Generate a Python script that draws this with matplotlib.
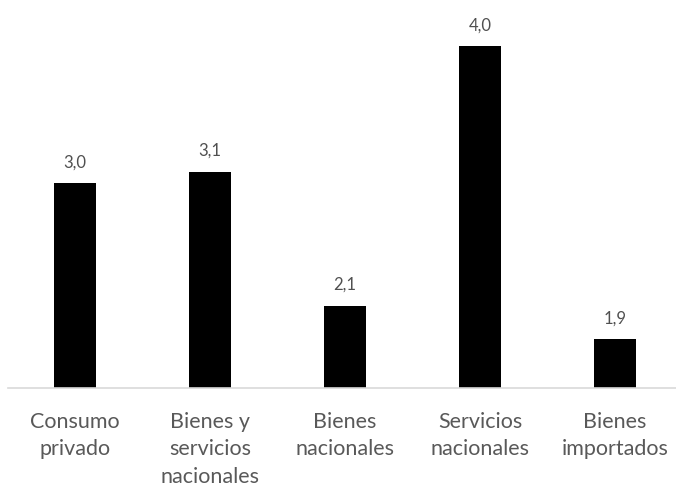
import matplotlib
matplotlib.use('Agg')
import matplotlib.pyplot as plt

# values (labels are shown rounded to one decimal)
categories = ["Consumo\nprivado", "Bienes y\nservicios\nnacionales", "Bienes\nnacionales",
              "Servicios\nnacionales", "Bienes\nimportados"]
values = [3.02, 3.1, 2.14, 4.0, 1.9]

TEXT_COLOR = '#505050'

fig = plt.figure(figsize=(6.76, 4.87), dpi=100)
ax = fig.add_axes([0.0111, 0.2033, 0.9985, 0.731])

x = range(len(values))
bars = ax.bar(x, values, width=0.31, color='black', zorder=2)

ax.set_xlim(-0.5, len(values) - 0.5)
ax.set_ylim(1.55, 4.1)

for b, v in zip(bars, values):
    ax.annotate(f"{v:.1f}".replace('.', ','),
                (b.get_x() + b.get_width() / 2, b.get_height()),
                xytext=(0, 9), textcoords='offset points',
                ha='center', va='bottom', fontsize=12,
                color=TEXT_COLOR, family='Lato')

ax.set_xticks(list(x))
ax.set_xticklabels(categories, fontsize=15.5, color='#595959', family='Lato',
                   linespacing=1.48, va='top')
ax.tick_params(axis='x', length=0, pad=17)
ax.set_yticks([])

for side in ['top', 'right', 'left']:
    ax.spines[side].set_visible(False)
ax.spines['bottom'].set_color('#D9D9D9')
ax.spines['bottom'].set_linewidth(1.2)

fig.savefig('out.png', dpi=100)
